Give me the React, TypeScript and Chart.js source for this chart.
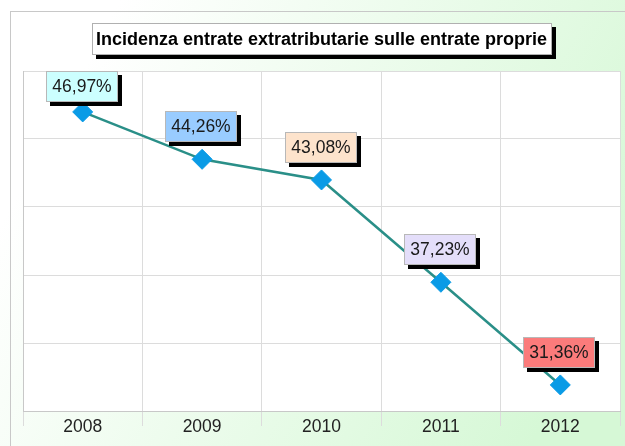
import React, { useEffect, useRef } from "react";
import { Chart, registerables } from "chart.js";

Chart.register(...registerables);

const TITLE = "Incidenza entrate extratributarie sulle entrate proprie";
const YEARS = ["2008", "2009", "2010", "2011", "2012"];
const VALUES = [46.97, 44.26, 43.08, 37.23, 31.36];
const LABEL_COLORS = ["#ccffff", "#99ccff", "#fde3cc", "#e4defa", "#fb7b7b"];
const Y_MIN = 29.87;
const Y_MAX = 49.31;

const FONT = "'Liberation Sans', Arial, sans-serif";

const fmt = (v: number) => v.toFixed(2).replace(".", ",") + "%";

const decorPlugin = {
  id: "decor",
  beforeDraw(chart: any) {
    const { ctx, width, height, chartArea } = chart;
    ctx.save();
    const g = ctx.createLinearGradient(120, 0, width, height * 0.6);
    g.addColorStop(0, "#ffffff");
    g.addColorStop(1, "#d6f8d6");
    ctx.fillStyle = g;
    ctx.fillRect(0, 0, width, height);
    ctx.strokeStyle = "#c8c8c8";
    ctx.lineWidth = 1;
    ctx.strokeRect(10.5, 11.5, width + 20, height + 20);
    ctx.fillStyle = "#ffffff";
    ctx.fillRect(chartArea.left, chartArea.top, chartArea.right - chartArea.left, chartArea.bottom - chartArea.top);
    ctx.restore();
  },
  afterDatasetsDraw(chart: any) {
    const { ctx, chartArea } = chart;
    ctx.save();
    // title box
    const cx = (chartArea.left + chartArea.right) / 2;
    const tw = 460, th = 32, ty = 23;
    const tx = Math.round(cx - tw / 2);
    ctx.fillStyle = "#000";
    ctx.fillRect(tx + 4, ty + 4, tw, th);
    ctx.fillStyle = "#fff";
    ctx.fillRect(tx, ty, tw, th);
    ctx.strokeStyle = "#b0b0b0";
    ctx.lineWidth = 1;
    ctx.strokeRect(tx + 0.5, ty + 0.5, tw - 1, th - 1);
    ctx.font = "bold 18px " + FONT;
    ctx.fillStyle = "#000";
    ctx.textAlign = "center";
    ctx.textBaseline = "middle";
    const m = ctx.measureText(TITLE).width;
    const sx = Math.min(1, 452 / m);
    ctx.save();
    ctx.translate(cx, ty + th / 2 + 1);
    ctx.scale(sx, 1);
    ctx.fillText(TITLE, 0, 0);
    ctx.restore();

    // data labels
    const meta = chart.getDatasetMeta(0);
    ctx.font = "17.5px " + FONT;
    meta.data.forEach((pt: any, i: number) => {
      const text = fmt(VALUES[i]);
      const w = 72, h = 31;
      let x = Math.round(pt.x - w / 2 - 1);
      let y = Math.round(pt.y - 17 - h);
      if (y < chartArea.top) y = chartArea.top;
      ctx.fillStyle = "#000";
      ctx.fillRect(x + 4, y + 4, w, h);
      ctx.fillStyle = LABEL_COLORS[i];
      ctx.fillRect(x, y, w, h);
      ctx.strokeStyle = "#b8b8b8";
      ctx.strokeRect(x + 0.5, y + 0.5, w - 1, h - 1);
      ctx.fillStyle = "#1a1a1a";
      ctx.textAlign = "center";
      ctx.textBaseline = "middle";
      ctx.fillText(text, x + w / 2, y + h / 2 + 1);
    });
    ctx.restore();
  },
};

export default function App() {
  const ref = useRef<HTMLCanvasElement>(null);
  useEffect(() => {
    if (!ref.current) return;
    const chart = new Chart(ref.current, {
      type: "line",
      data: {
        labels: YEARS,
        datasets: [
          {
            data: VALUES,
            borderColor: "#2a8f88",
            borderWidth: 2.5,
            pointStyle: "rectRot",
            pointRadius: 10,
            pointBackgroundColor: "#0a9be6",
            pointBorderColor: "#0a9be6",
            pointBorderWidth: 1,
            tension: 0,
          },
        ],
      },
      options: {
        responsive: false,
        animation: false,
        events: [],
        layout: { autoPadding: false, padding: { left: 23, top: 71, right: 5, bottom: 0 } },
        plugins: { legend: { display: false }, title: { display: false }, tooltip: { enabled: false } },
        scales: {
          x: {
            offset: true,
            grid: { offset: true, color: "#dcdcdc", tickLength: 15, lineWidth: 1 },
            border: { color: "#c8c8c8" },
            ticks: { color: "#222", font: { family: FONT, size: 17.5 }, padding: -9 },
            afterFit: (s: any) => {
              s.height = 35;
              s.paddingLeft = 0;
              s.paddingRight = 0;
            },
          },
          y: {
            min: Y_MIN,
            max: Y_MAX,
            grid: { color: "#dcdcdc", drawTicks: false },
            border: { color: "#c8c8c8" },
            ticks: { display: false, count: 6 },
            afterFit: (s: any) => {
              s.width = 0;
              s.paddingTop = 0;
              s.paddingBottom = 0;
            },
          },
        },
      },
      plugins: [decorPlugin],
    });
    return () => chart.destroy();
  }, []);
  return (
    <canvas
      ref={ref}
      width={625}
      height={446}
      style={{ position: "absolute", left: 0, top: 0, display: "block", width: 625, height: 446 }}
    />
  );
}
